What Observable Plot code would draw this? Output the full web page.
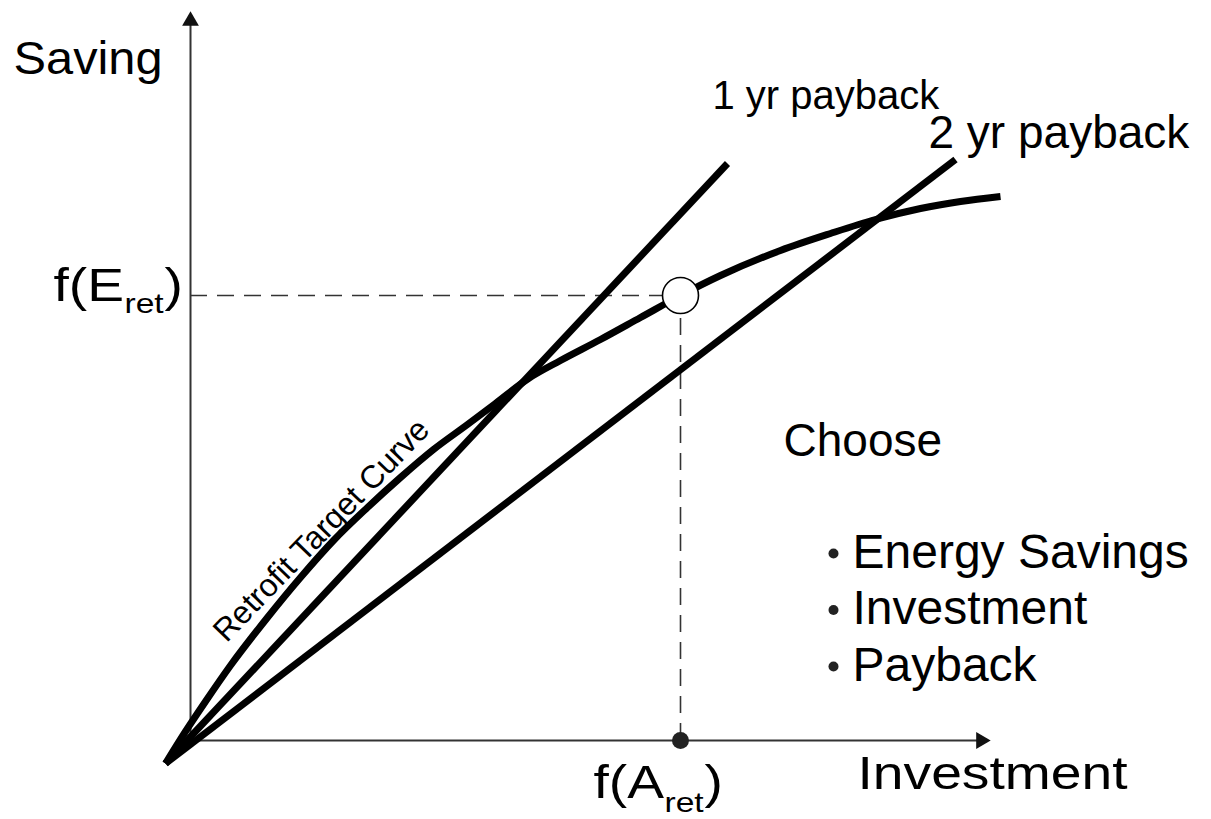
<!DOCTYPE html>
<html><head><meta charset="utf-8">
<script src="https://cdn.jsdelivr.net/npm/d3@7"></script>
<script src="https://cdn.jsdelivr.net/npm/@observablehq/plot@0.6"></script>
<style>html,body{margin:0;padding:0;background:#fff}svg{display:block}</style>
</head><body><div id="chart"></div>
<script>
// ---- data (conceptual units of the sketch) ----
const retrofitInvestment = [-0.25,-0.05,0.15,0.40,0.77,1.10,1.43,1.77,2.10,2.43,2.77,3.05,3.38,3.70,4.10,4.50,4.90,5.30,5.90,6.40,6.85,7.30,7.70,8.10];
const retrofitSaving     = [-0.23,0.09,0.39,0.75,1.23,1.63,2.00,2.33,2.63,2.91,3.16,3.37,3.62,3.80,4.01,4.23,4.45,4.65,4.90,5.07,5.21,5.32,5.39,5.44];
const paybackLabels      = ["1 yr payback", "2 yr payback"];
const paybackInvestment  = [[-0.25, 5.37], [-0.25, 7.65]];
const paybackSaving      = [[-0.23, 5.77], [-0.23, 5.81]];
const targetInvestment   = 4.90;   // f(A_ret)
const targetSaving       = 4.45;   // f(E_ret)
const chooseItems        = ["Energy Savings", "Investment", "Payback"];
const axisMaxX = 8.03, axisMaxY = 7.32;

// ---- build tables ----
const curve = retrofitInvestment.map((x, i) => ({x, y: retrofitSaving[i]}));
const payback = paybackLabels.flatMap((label, k) =>
  paybackInvestment[k].map((x, i) => ({label, x, y: paybackSaving[k][i]})));

const font = "'Liberation Sans', Arial, Helvetica, sans-serif";
const big = 46;
// text marks, each with a horizontal widening factor (the original sketch stretches some labels)
const stretch = [];
const T = (x, y, text, opts = {}, f = 1) => {
  stretch.push(f);
  return Plot.text([{x, y, text}], {x: "x", y: "y", text: "text",
    textAnchor: "start", lineAnchor: "bottom", fill: "black", fontSize: big, ...opts});
};
const labels = [
  T(-1.77, 6.67, "Saving", {}, 1.06),
  T(5.22, 6.32, paybackLabels[0], {fontSize: 40}),
  T(7.38, 5.93, paybackLabels[1]),
  T(-1.37, 4.40, "f(E", {}, 1.2),
  T(-1.37, 4.40, "ret", {fontSize: 28, dx: 71, dy: 12}, 1.2),
  T(-1.37, 4.40, ")", {dx: 111}, 1.2),
  T(4.03, -0.57, "f(A", {}, 1.2),
  T(4.03, -0.57, "ret", {fontSize: 28, dx: 71, dy: 14}, 1.2),
  T(4.03, -0.57, ")", {dx: 111}, 1.2),
  T(6.67, -0.48, "Investment", {}, 1.2),
  T(5.93, 2.85, "Choose"),
  T(0.36, 0.97, "Retrofit Target Curve", {fontSize: 32, rotate: -46})
];
stretch.push(1);
const legendText = Plot.text(chooseItems, {x: 6.62, y: (d, i) => 1.73 - i * 0.565, text: d => d,
  textAnchor: "start", lineAnchor: "bottom", fontSize: 48, fill: "black"});

const chart = Plot.plot({
  width: 1211, height: 819,
  marginLeft: 190, marginRight: 218, marginTop: 8, marginBottom: 79,
  x: {domain: [0, axisMaxX], axis: null},
  y: {domain: [0, axisMaxY], axis: null},
  style: {fontFamily: font, background: "white"},
  marks: [
    // axes
    Plot.ruleY([0], {x1: 0, x2: axisMaxX - 0.15, stroke: "#333", strokeWidth: 2}),
    Plot.ruleX([0], {y1: 0, y2: axisMaxY - 0.15, stroke: "#333", strokeWidth: 2}),
    Plot.dot([{x: axisMaxX - 0.125, y: 0}], {x: "x", y: "y", symbol: "triangle2", r: 8, rotate: 90, fill: "#111", stroke: "none"}),
    Plot.dot([{x: 0, y: axisMaxY - 0.125}], {x: "x", y: "y", symbol: "triangle2", r: 8, fill: "#111", stroke: "none"}),
    // dashed guides
    Plot.ruleY([targetSaving], {x1: 0, x2: targetInvestment, stroke: "#333", strokeWidth: 1.6, strokeDasharray: "17,10"}),
    Plot.ruleX([targetInvestment], {y1: 0, y2: targetSaving, stroke: "#333", strokeWidth: 1.6, strokeDasharray: "17,10"}),
    // payback lines
    Plot.line(payback, {x: "x", y: "y", z: "label", stroke: "black", strokeWidth: 7, strokeLinecap: "butt"}),
    // retrofit target curve
    Plot.line(curve, {x: "x", y: "y", stroke: "black", strokeWidth: 7, curve: "monotone-x", strokeLinecap: "butt"}),
    // points
    Plot.dot([{x: targetInvestment, y: targetSaving}], {x: "x", y: "y", r: 18, fill: "white", stroke: "black", strokeWidth: 1.6}),
    Plot.dot([{x: targetInvestment, y: 0}], {x: "x", y: "y", r: 8.5, fill: "#222", stroke: "none"}),
    // labels
    ...labels,
    legendText,
    Plot.dot(chooseItems, {x: 6.43, y: (d, i) => 1.87 - i * 0.565, r: 5, fill: "#222", stroke: "none"})
  ]
});
document.getElementById("chart").appendChild(chart);
// widen the labels that are horizontally stretched in the original
chart.querySelectorAll('g[aria-label="text"]').forEach((g, k) => {
  const f = stretch[k] || 1;
  if (f === 1) return;
  g.querySelectorAll("text").forEach(t => {
    const w = t.getComputedTextLength();
    if (w > 0) { t.setAttribute("textLength", (w * f).toFixed(1)); t.setAttribute("lengthAdjust", "spacingAndGlyphs"); }
  });
});
</script>
</body></html>
